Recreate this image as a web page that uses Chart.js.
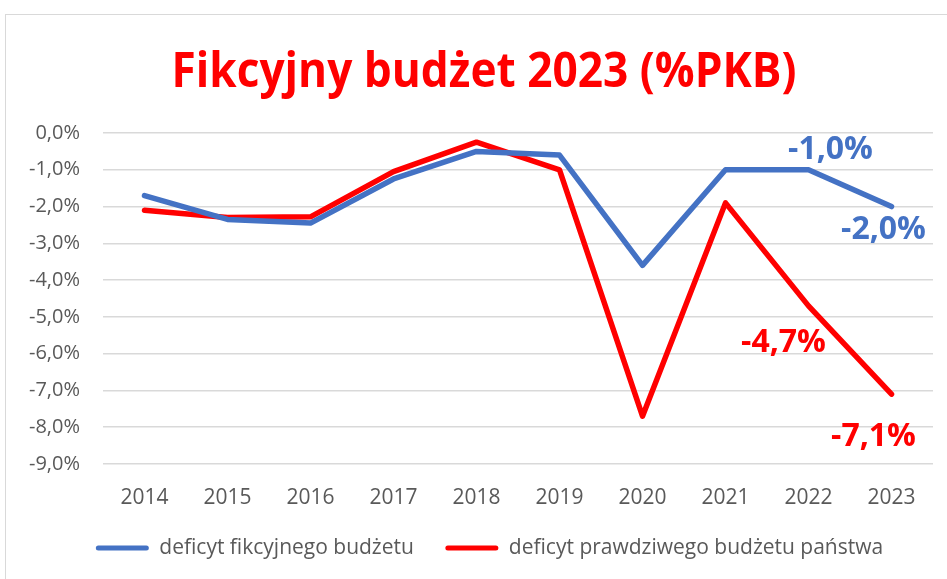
<!DOCTYPE html>
<html>
<head>
<meta charset="utf-8">
<script src="https://cdn.jsdelivr.net/npm/chart.js@4"></script>
<style>
  html, body { margin: 0; padding: 0; background: #fff; overflow: hidden; }
  #wrap { position: relative; width: 947px; height: 579px; }
  #frame { position: absolute; left: 5px; top: 14px; width: 960px; height: 600px; border: 1.5px solid #d9d9d9; box-sizing: border-box; }
  canvas { position: absolute; left: 0; top: 0; }
</style>
</head>
<body>
<div id="wrap">
  <div id="frame"></div>
  <canvas id="c" width="947" height="579"></canvas>
</div>
<script>
const titleText = 'Fikcyjny budżet 2023 (%PKB)';
const years = ['2014','2015','2016','2017','2018','2019','2020','2021','2022','2023'];
const fictitiousDeficit = [-1.7, -2.35, -2.45, -1.25, -0.5, -0.6, -3.6, -1.0, -1.0, -2.0];
const realDeficit = [-2.1, -2.3, -2.28, -1.05, -0.25, -1.0, -7.7, -1.9, -4.7, -7.1];
const seriesNames = ['deficyt fikcyjnego budżetu', 'deficyt prawdziwego budżetu państwa'];
const labelledIndexes = [8, 9];

const BLUE = '#4472C4', RED = '#FF0000', GREY = '#595959';
const FONT = '"Open Sans", "Noto Sans", sans-serif';

function fmt(v) { return v.toFixed(1).replace('.', ',').replace('-0,0', '0,0') + '%'; }

// per-dataset, per-labelled-point offsets (px) of the label baseline centre relative to the point
const labelOffsets = [
  [[22, -11], [-8, 32]],
  [[-25, 46], [-18, 52]]
];

const titlePlugin = {
  id: 'bigTitle',
  afterDraw(chart) {
    const ctx = chart.ctx;
    ctx.save();
    ctx.font = 'bold 48px "Liberation Sans Narrow", "Open Sans", sans-serif';
    const w = ctx.measureText(titleText).width;
    const sx = 625 / w;
    ctx.translate(484, 87);
    ctx.scale(sx, 1);
    ctx.fillStyle = RED;
    ctx.textAlign = 'center';
    ctx.textBaseline = 'alphabetic';
    ctx.fillText(titleText, 0, 0);
    ctx.restore();
  }
};

const legendShift = {
  id: 'legendShift',
  afterLayout(chart) {
    const lg = chart.legend;
    if (lg) { lg.left += 23; lg.right += 23; }
  }
};

const valueLabels = {
  id: 'valueLabels',
  afterDatasetsDraw(chart) {
    const ctx = chart.ctx;
    ctx.save();
    ctx.font = 'bold 32px ' + FONT;
    ctx.textAlign = 'center';
    ctx.textBaseline = 'alphabetic';
    chart.data.datasets.forEach((ds, di) => {
      const meta = chart.getDatasetMeta(di);
      labelledIndexes.forEach((idx, k) => {
        const el = meta.data[idx];
        const off = labelOffsets[di][k];
        ctx.fillStyle = ds.borderColor;
        ctx.fillText(fmt(ds.data[idx]), el.x + off[0], el.y + off[1]);
      });
    });
    ctx.restore();
  }
};

new Chart(document.getElementById('c'), {
  type: 'line',
  data: {
    labels: years,
    datasets: [
      { label: seriesNames[0], data: fictitiousDeficit, borderColor: BLUE, backgroundColor: BLUE,
        borderWidth: 5.5, pointRadius: 0, tension: 0, borderCapStyle: 'round', borderJoinStyle: 'round' },
      { label: seriesNames[1], data: realDeficit, borderColor: RED, backgroundColor: RED,
        borderWidth: 5.5, pointRadius: 0, tension: 0, borderCapStyle: 'round', borderJoinStyle: 'round' }
    ]
  },
  options: {
    responsive: false,
    animation: false,
    layout: { padding: { top: 133, right: 14, left: 0, bottom: 10.5 } },
    scales: {
      x: {
        offset: true,
        afterFit(s) { s.height = 42; },
        grid: { display: false },
        border: { display: false },
        ticks: { color: GREY, font: { family: FONT, size: 21 }, padding: 13, maxRotation: 0 }
      },
      y: {
        min: -9, max: 0,
        afterFit(s) { s.width = 103; },
        grid: { color: '#d9d9d9', lineWidth: 1.5, drawTicks: false },
        border: { display: false },
        ticks: { stepSize: 1, color: GREY, font: { family: FONT, size: 20 }, padding: 23, callback: (v) => fmt(v) }
      }
    },
    plugins: {
      title: { display: false },
      tooltip: { enabled: false },
      legend: {
        position: 'bottom',
        labels: {
          color: GREY,
          font: { family: FONT, size: 21 },
          boxWidth: 53, boxHeight: 5, padding: 31.5,
          useBorderRadius: true, borderRadius: 2.5,
          generateLabels(chart) {
            return chart.data.datasets.map((ds, i) => ({
              text: ds.label, fillStyle: ds.borderColor, strokeStyle: ds.borderColor,
              lineWidth: 0, hidden: false, datasetIndex: i, fontColor: GREY, borderRadius: 2.5
            }));
          }
        }
      }
    }
  },
  plugins: [titlePlugin, valueLabels, legendShift]
});
</script>
</body>
</html>
